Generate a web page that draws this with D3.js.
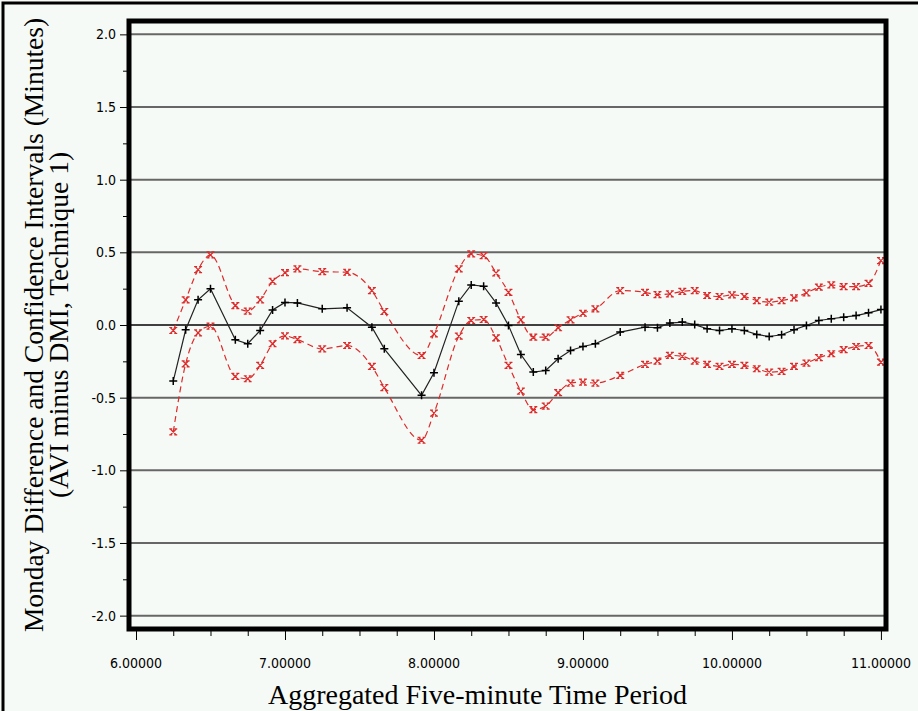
<!DOCTYPE html>
<html>
<head>
<meta charset="utf-8">
<script src="https://cdn.jsdelivr.net/npm/d3@7"></script>
<style>
  body { margin: 0; background: #f6faf6; }
  svg { display: block; }
</style>
</head>
<body>
<svg id="drawing_region"></svg>
<script>
// five-minute periods (decimal hours); some periods have no value
var periods = [6.25, 6.3333, 6.4167, 6.5, 6.6667, 6.75, 6.8333, 6.9167, 7.0, 7.0833,
    7.25, 7.4167, 7.5833, 7.6667, 7.9167, 8.0, 8.1667, 8.25, 8.3333, 8.4167,
    8.5, 8.5833, 8.6667, 8.75, 8.8333, 8.9167, 9.0, 9.0833, 9.25, 9.4167,
    9.5, 9.5833, 9.6667, 9.75, 9.8333, 9.9167, 10.0, 10.0833, 10.1667, 10.25,
    10.3333, 10.4167, 10.5, 10.5833, 10.6667, 10.75, 10.8333, 10.9167, 11.0];

var difference = [-0.386, -0.033, 0.173, 0.249, -0.102, -0.129, -0.038, 0.104, 0.155, 0.152,
    0.111, 0.118, -0.015, -0.164, -0.484, -0.329, 0.164, 0.276, 0.267, 0.152,
    -0.003, -0.203, -0.324, -0.313, -0.232, -0.175, -0.148, -0.129, -0.049, -0.015,
    -0.019, 0.013, 0.020, 0.003, -0.026, -0.038, -0.026, -0.038, -0.065, -0.079,
    -0.067, -0.033, -0.003, 0.031, 0.043, 0.054, 0.065, 0.084, 0.106];

var upperBound = [-0.038, 0.173, 0.381, 0.482, 0.134, 0.095, 0.173, 0.301, 0.360, 0.386,
    0.367, 0.363, 0.237, 0.093, -0.210, -0.061, 0.386, 0.489, 0.477, 0.358,
    0.225, 0.035, -0.084, -0.084, -0.019, 0.035, 0.081, 0.111, 0.237, 0.225,
    0.209, 0.214, 0.232, 0.237, 0.203, 0.196, 0.207, 0.196, 0.168, 0.157,
    0.168, 0.187, 0.221, 0.260, 0.276, 0.264, 0.264, 0.287, 0.443];

var lowerBound = [-0.736, -0.267, -0.054, -0.008, -0.354, -0.370, -0.278, -0.129, -0.075, -0.100,
    -0.164, -0.141, -0.285, -0.431, -0.793, -0.606, -0.077, 0.031, 0.038, -0.088,
    -0.278, -0.455, -0.583, -0.558, -0.466, -0.400, -0.393, -0.400, -0.347, -0.271,
    -0.248, -0.209, -0.216, -0.248, -0.271, -0.285, -0.271, -0.278, -0.301, -0.324,
    -0.319, -0.285, -0.262, -0.225, -0.198, -0.170, -0.148, -0.141, -0.256];

var xTicks = [6, 7, 8, 9, 10, 11];
var xTickLabels = ['6.00000', '7.00000', '8.00000', '9.00000', '10.00000', '11.00000'];
var yTicks = [2.0, 1.5, 1.0, 0.5, 0.0, -0.5, -1.0, -1.5, -2.0];
var yTickLabels = ['2.0', '1.5', '1.0', '0.5', '0.0', '-0.5', '-1.0', '-1.5', '-2.0'];

var Config = {
    parent: '#drawing_region',
    width: 918,
    height: 711,
    frame: { left: 129, right: 886, top: 21, bottom: 629 }
};

class CIChart {
    constructor(config) {
        this.config = config;
        this.init();
    }

    init() {
        let self = this;
        let f = self.config.frame;
        self.svg = d3.select(self.config.parent)
            .attr('width', self.config.width)
            .attr('height', self.config.height);

        // 6.0 sits a bit inside the frame, 11.0 near the right edge
        self.x = d3.scaleLinear().domain([5.953, 11.034]).range([f.left, f.right]);
        self.y = d3.scaleLinear().domain([-2.092, 2.092]).range([f.bottom, f.top]);
    }

    update() {
        let self = this;
        let f = self.config.frame;
        let svg = self.svg;
        let narrow = '"Liberation Sans Narrow", "DejaVu Sans Condensed", sans-serif';
        let serif = '"Liberation Serif", "Times New Roman", serif';

        // outer border of the picture
        svg.append('path')
            .attr('d', `M3,${self.config.height} V3 H${self.config.width}`)
            .attr('fill', 'none').attr('stroke', '#000').attr('stroke-width', 3);

        // grid lines
        svg.append('g').selectAll('line')
            .data(yTicks)
            .join('line')
            .attr('x1', f.left).attr('x2', f.right)
            .attr('y1', d => self.y(d)).attr('y2', d => self.y(d))
            .attr('stroke', d => d === 0 ? '#000' : '#666')
            .attr('stroke-width', d => d === 0 ? 1.5 : 2);

        // y axis: ticks every 0.5 with minor ones in between
        let yAxis = d3.axisLeft(self.y)
            .tickValues(d3.range(-2, 2.01, 0.25))
            .tickSize(0)
            .tickFormat('');
        let gy = svg.append('g').attr('transform', `translate(${f.left - 2},0)`).call(yAxis);
        gy.select('.domain').remove();
        gy.selectAll('.tick line')
            .attr('x2', (d, i) => i % 2 === 0 ? -7 : -4)
            .attr('stroke', '#000');

        svg.append('g').selectAll('text')
            .data(yTicks)
            .join('text')
            .attr('x', f.left - 13)
            .attr('y', d => self.y(d) + 5)
            .attr('text-anchor', 'end')
            .style('font-family', narrow)
            .style('font-size', '14px')
            .text((d, i) => yTickLabels[i]);

        // x axis
        let xAxis = d3.axisBottom(self.x)
            .tickValues(d3.range(6, 11.01, 0.25))
            .tickSize(0)
            .tickFormat('');
        let gx = svg.append('g').attr('transform', `translate(0,${f.bottom + 2})`).call(xAxis);
        gx.select('.domain').remove();
        gx.selectAll('.tick line')
            .attr('y2', (d, i) => i % 4 === 0 ? 9 : 5)
            .attr('stroke', '#000');

        svg.append('g').selectAll('text')
            .data(xTicks)
            .join('text')
            .attr('x', d => self.x(d))
            .attr('y', f.bottom + 39)
            .attr('text-anchor', 'middle')
            .style('font-family', narrow)
            .style('font-size', '14px')
            .text((d, i) => xTickLabels[i]);

        // axis titles
        svg.append('text')
            .attr('x', (f.left + f.right) / 2 - 30)
            .attr('y', 704)
            .attr('text-anchor', 'middle')
            .style('font-family', serif)
            .style('font-size', '28px')
            .text('Aggregated Five-minute Time Period');

        let yTitle = svg.append('text')
            .attr('transform', `translate(0,${(f.top + f.bottom) / 2}) rotate(-90)`)
            .attr('text-anchor', 'middle')
            .style('font-family', serif)
            .style('font-size', '27.5px');
        yTitle.append('tspan').attr('x', 0).attr('y', 43)
            .text('Monday Difference and Confidence Intervals (Minutes)');
        yTitle.append('tspan').attr('x', 0).attr('y', 68)
            .text('(AVI minus DMI, Technique 1)');

        // series
        let rows = periods.map((p, i) => ({ p: p, d: difference[i], hi: upperBound[i], lo: lowerBound[i] }));

        let redLine = key => d3.line()
            .x(r => self.x(r.p))
            .y(r => self.y(r[key]))
            .curve(d3.curveMonotoneX);

        ['hi', 'lo'].forEach(key => {
            svg.append('path')
                .datum(rows)
                .attr('d', redLine(key))
                .attr('fill', 'none')
                .attr('stroke', '#dd2b2b')
                .attr('stroke-width', 1.2)
                .attr('stroke-dasharray', '6,4');

            svg.append('g').selectAll('path')
                .data(rows)
                .join('path')
                .attr('transform', r => `translate(${self.x(r.p)},${self.y(r[key])})`)
                .attr('d', 'M-3,-3L3,3M3,-3L-3,3M-4,-3H-1M1,-3H4M-4,3H-1M1,3H4')
                .attr('fill', 'none')
                .attr('stroke', '#dd2b2b')
                .attr('stroke-width', 1.2);
        });

        svg.append('path')
            .datum(rows)
            .attr('d', d3.line().x(r => self.x(r.p)).y(r => self.y(r.d)))
            .attr('fill', 'none')
            .attr('stroke', '#222')
            .attr('stroke-width', 1.2);

        svg.append('g').selectAll('path')
            .data(rows)
            .join('path')
            .attr('transform', r => `translate(${self.x(r.p)},${self.y(r.d)})`)
            .attr('d', 'M-4,0H4M0,-4V4')
            .attr('stroke', '#000')
            .attr('stroke-width', 1.5);

        // heavy frame round the plotting area
        svg.append('rect')
            .attr('x', f.left).attr('y', f.top)
            .attr('width', f.right - f.left).attr('height', f.bottom - f.top)
            .attr('fill', 'none')
            .attr('stroke', '#000')
            .attr('stroke-width', 5);
    }
}

const chart = new CIChart(Config);
chart.update();
</script>
</body>
</html>
